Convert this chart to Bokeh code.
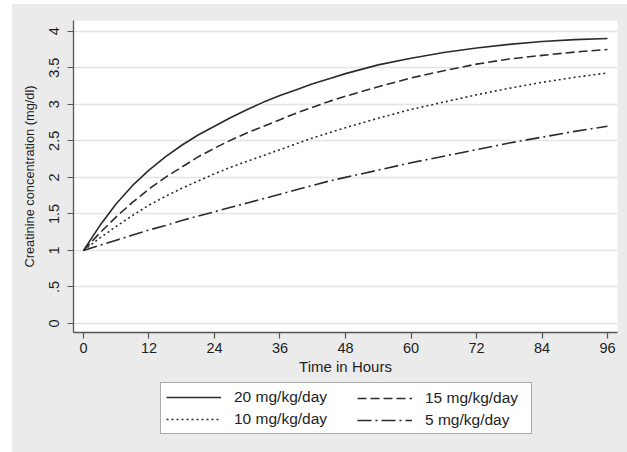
from bokeh.plotting import figure
from bokeh.layouts import column
from bokeh.models import Range1d, FixedTicker, Legend, LegendItem
from bokeh.embed import file_html
from bokeh.resources import INLINE

# Data
hours = [0, 3, 6, 9, 12, 15, 18, 21, 24, 27, 30, 33, 36, 39, 42, 45, 48,
         54, 60, 66, 72, 78, 84, 90, 96]
dose20 = [1.00, 1.34, 1.64, 1.89, 2.10, 2.28, 2.44, 2.58, 2.70, 2.82, 2.93, 3.03, 3.12,
          3.20, 3.28, 3.35, 3.42, 3.54, 3.63, 3.71, 3.77, 3.82, 3.86, 3.885, 3.90]
dose15 = [1.00, 1.24, 1.46, 1.66, 1.84, 2.00, 2.14, 2.28, 2.40, 2.51, 2.61, 2.70, 2.79,
          2.88, 2.96, 3.04, 3.11, 3.24, 3.36, 3.46, 3.55, 3.62, 3.67, 3.715, 3.75]
dose10 = [1.00, 1.17, 1.33, 1.48, 1.62, 1.74, 1.85, 1.95, 2.05, 2.14, 2.22, 2.30, 2.38,
          2.46, 2.54, 2.61, 2.68, 2.81, 2.93, 3.03, 3.13, 3.22, 3.30, 3.37, 3.43]
dose5 = [1.00, 1.07, 1.14, 1.21, 1.28, 1.34, 1.41, 1.47, 1.53, 1.59, 1.65, 1.71, 1.77,
         1.83, 1.89, 1.95, 2.00, 2.10, 2.20, 2.29, 2.38, 2.47, 2.55, 2.63, 2.70]
series_labels = ["20 mg/kg/day", "15 mg/kg/day", "10 mg/kg/day", "5 mg/kg/day"]
x_ticks = [0, 12, 24, 36, 48, 60, 72, 84, 96]
y_ticks = [0, 0.5, 1, 1.5, 2, 2.5, 3, 3.5, 4]
y_tick_labels = ["0", ".5", "1", "1.5", "2", "2.5", "3", "3.5", "4"]

FONT = "Liberation Sans"
BG = "#ebebeb"
LINE = "#2b2b2b"
TXT = "#1e1e1e"
DASHES = [None, "9 4", "2 3", "14 4 2 4"]
SERIES = [dose20, dose15, dose10, dose5]

p = figure(width=615, height=376,
           x_range=Range1d(-1.83, 97.83), y_range=Range1d(-0.123, 4.147),
           output_backend="svg", toolbar_location=None,
           background_fill_color="white", border_fill_color=BG,
           outline_line_color=None,
           min_border_left=61, min_border_right=10, min_border_top=16,
           min_border_bottom=48)

# grid
p.xgrid.grid_line_color = None
p.ygrid.grid_line_color = "#e4e4e4"
p.ygrid.grid_line_width = 1.5
p.ygrid.ticker = FixedTicker(ticks=y_ticks)

# axes
for ax in (p.xaxis[0], p.yaxis[0]):
    ax.axis_line_color = "#555555"
    ax.axis_line_width = 1.3
    ax.major_tick_line_color = "#555555"
    ax.major_tick_line_width = 1.2
    ax.major_tick_out = 6
    ax.major_tick_in = 0
    ax.minor_tick_line_color = None
    ax.major_label_text_font = FONT
    ax.major_label_text_font_size = "14.5px"
    ax.major_label_text_color = TXT
    ax.axis_label_text_font = FONT
    ax.axis_label_text_font_style = "normal"
    ax.axis_label_text_color = TXT

p.xaxis.ticker = FixedTicker(ticks=x_ticks)
p.xaxis.axis_label = "Time in Hours"
p.xaxis.axis_label_text_font_size = "15px"
p.xaxis.major_label_standoff = 4
p.xaxis.axis_label_standoff = 2

p.yaxis.ticker = FixedTicker(ticks=y_ticks)
p.yaxis.major_label_overrides = {t: l for t, l in zip(y_ticks, y_tick_labels)}
p.yaxis.major_label_orientation = "vertical"
p.yaxis.axis_label = "Creatinine concentration (mg/dl)"
p.yaxis.axis_label_text_font_size = "12.8px"
p.yaxis.major_label_standoff = 8
p.yaxis.axis_label_standoff = 10

for ys, dash in zip(SERIES, DASHES):
    kw = {} if dash is None else {"line_dash": dash}
    p.line(hours, ys, line_color=LINE, line_width=1.6, **kw)

# Legend strip below the plot, same grey background.  Its key lines use the
# same data but lie outside this strip's (empty) ranges, so only the legend shows.
q = figure(width=615, height=72, x_range=Range1d(1000, 1001), y_range=Range1d(1000, 1001),
           output_backend="svg", toolbar_location=None,
           x_axis_location=None, y_axis_location=None,
           background_fill_color=BG, border_fill_color=BG,
           outline_line_color=None,
           min_border_left=61, min_border_right=10, min_border_top=0,
           min_border_bottom=0)
q.grid.visible = False

keys = []
for ys, dash in zip(SERIES, DASHES):
    kw = {} if dash is None else {"line_dash": dash}
    keys.append(q.line(hours, ys, line_color=LINE, line_width=1.6, **kw))

common = dict(orientation="vertical", glyph_width=55, glyph_height=18,
              label_height=18, label_standoff=13, label_text_font=FONT,
              label_text_font_size="15.5px", label_text_color=TXT,
              spacing=4, padding=5, margin=0, border_line_color="#555555",
              border_line_width=1.2)

# the strip's frame starts at the same x as the main plot's frame (x=73)
leg_left = Legend(items=[LegendItem(label=series_labels[0], renderers=[keys[0]]),
                         LegendItem(label=series_labels[2], renderers=[keys[2]])],
                  location=(87, 18), label_width=292,
                  background_fill_color="white", background_fill_alpha=1.0,
                  **common)
leg_right = Legend(items=[LegendItem(label=series_labels[1], renderers=[keys[1]]),
                          LegendItem(label=series_labels[3], renderers=[keys[3]])],
                   location=(279, 18), label_width=100,
                   border_line_alpha=0.0, background_fill_alpha=0.0,
                   **common)
q.add_layout(leg_left)
q.add_layout(leg_right)

layout = column(p, q, spacing=0, margin=(4, 0, 0, 12),
                styles={"background-color": BG})
open("out.html", "w").write(file_html(layout, INLINE))
